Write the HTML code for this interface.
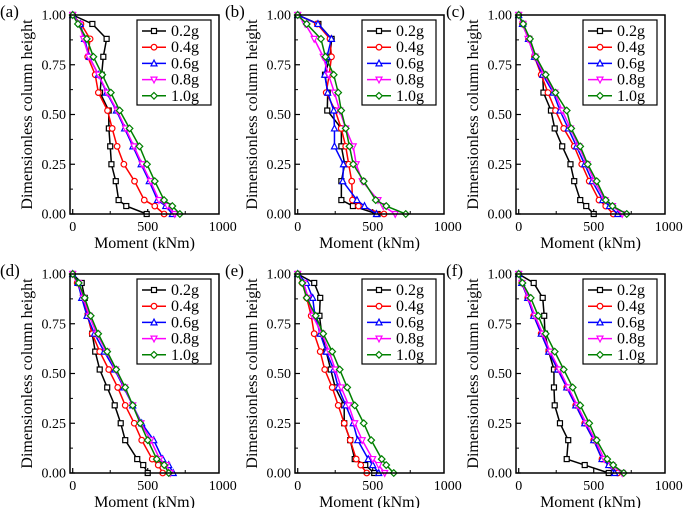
<!DOCTYPE html>
<html><head><meta charset="utf-8"><style>
body{margin:0;background:#fff;}
svg{display:block;}
</style></head><body>
<svg id="fig" width="685" height="508" viewBox="0 0 685 508" xmlns="http://www.w3.org/2000/svg"></svg>
<script>
const yLevels=[1,0.955,0.88,0.79,0.70,0.61,0.52,0.43,0.34,0.25,0.165,0.07,0.04,0];
const seriesNames=["0.2g","0.4g","0.6g","0.8g","1.0g"];
const colors=["#000000","#ff0000","#0000ff","#ff00ff","#008000"];
const xTicks=[0,500,1000];
const yTicks=[0,0.25,0.5,0.75,1];
const panelLabels=["(a)","(b)","(c)","(d)","(e)","(f)"];
const dataA=[
[0,131,226,204,193,182,240,241,250,258,287,306,357,493],
[0,55,116,100,150,171,232,263,296,341,412,477,547,609],
[0,50,79,110,171,226,291,346,401,456,510,565,620,664],
[0,45,72,108,172,230,296,352,408,463,518,575,632,680],
[0,35,94,138,197,254,313,379,445,495,547,609,664,714]];
const dataB=[
[0,138,226,215,182,200,197,291,291,313,291,291,368,532],
[0,130,215,225,210,190,250,290,320,340,360,365,405,575],
[0,135,225,195,180,200,240,245,245,305,300,395,445,525],
[0,50,110,170,205,245,280,320,370,390,430,535,570,650],
[0,60,155,185,240,270,290,320,345,370,440,520,590,720]];
const dataC=[
[0,30,70,110,160,165,215,240,290,345,370,410,450,500],
[0,25,65,105,150,195,245,300,370,420,470,535,580,630],
[0,25,65,105,160,230,275,330,385,440,490,560,605,660],
[0,28,62,108,170,240,290,345,400,455,505,575,625,690],
[0,30,75,115,180,245,320,350,410,460,520,580,625,720]];
const dataD=[
[0,60,80,100,130,150,180,230,280,320,350,430,470,500],
[0,30,70,100,130,180,240,300,350,410,460,530,570,600],
[0,35,60,95,145,210,280,340,400,460,540,600,640,670],
[0,38,70,110,160,225,285,345,400,455,520,580,625,650],
[0,40,80,120,170,230,290,350,400,450,500,560,610,640]];
const dataE=[
[0,110,150,145,160,190,220,250,310,310,350,380,450,510],
[0,30,60,90,110,150,180,230,270,310,350,390,420,460],
[0,60,100,115,150,190,240,270,320,370,400,470,500,540],
[0,40,70,100,160,210,250,290,340,380,430,500,540,580],
[0,30,60,120,170,230,280,330,380,440,490,560,590,640]];
const dataF=[
[0,100,160,170,175,200,235,235,240,275,330,320,440,600],
[0,20,60,100,150,200,260,320,380,440,500,555,605,660],
[0,20,60,100,150,200,260,320,380,440,500,555,600,640],
[0,22,65,108,160,210,270,330,390,450,510,570,620,690],
[0,25,80,130,180,240,300,360,410,470,520,590,630,700]];
const panelData=[dataA,dataB,dataC,dataD,dataE,dataF];

const NS="http://www.w3.org/2000/svg";
const svg=document.getElementById('fig');
const FF='"Liberation Serif", serif';
function mk(tag,attrs,parent){const e=document.createElementNS(NS,tag);for(const k in attrs)e.setAttribute(k,attrs[k]);if(tag==='text'){e.style.fontFamily=FF;}(parent||svg).appendChild(e);return e;}
const lefts=[70,295,516];const tops=[15,274];
const W=149,H=199,XMIN=-18,XMAX=975;
function marker(g,k,x,y,c){
  const s=2.5;let m;
  if(k===0)m=mk('rect',{x:x-s,y:y-s,width:2*s,height:2*s},g);
  else if(k===1)m=mk('circle',{cx:x,cy:y,r:s+0.3},g);
  else if(k===2)m=mk('polygon',{points:`${x},${y-s-0.8} ${x-s-0.5},${y+s} ${x+s+0.5},${y+s}`},g);
  else if(k===3)m=mk('polygon',{points:`${x},${y+s+0.8} ${x-s-0.5},${y-s} ${x+s+0.5},${y-s}`},g);
  else m=mk('polygon',{points:`${x},${y-s-0.8} ${x+s+0.8},${y} ${x},${y+s+0.8} ${x-s-0.8},${y}`},g);
  m.setAttribute('fill','#fff');m.setAttribute('stroke',c);m.setAttribute('stroke-width','1.2');
  return m;
}
panelData.forEach((pd,pi)=>{
  const L=lefts[pi%3],T=tops[Math.floor(pi/3)];
  const xs=v=>L+(v-XMIN)/(XMAX-XMIN)*W;
  const ys=v=>T+H-v*H;
  const g=mk('g',{});
  
  
  const lab=mk('text',{x:L-70,y:T+2,'font-size':17},g);lab.textContent=panelLabels[pi];
  
  
  yTicks.forEach(t=>{
    const y=ys(t);
    mk('line',{x1:L,x2:L+5,y1:y,y2:y,stroke:'#000','stroke-width':1.2},g);
    const tx=mk('text',{x:L-4,y:y+4.5,'font-size':14,'text-anchor':'end'},g);tx.textContent=t.toFixed(2);
    
    
  });
  [0.125,0.375,0.625,0.875].forEach(t=>{const y=ys(t);mk('line',{x1:L,x2:L+3,y1:y,y2:y,stroke:'#000','stroke-width':1},g);});
  xTicks.forEach(t=>{
    const x=xs(t);
    if(t<XMAX)mk('line',{x1:x,x2:x,y1:T+H,y2:T+H-5,stroke:'#000','stroke-width':1.2},g);
    const tx=mk('text',{x:x,y:T+H+17,'font-size':14,'text-anchor':'middle'},g);tx.textContent=t;
    
    
  });
  [250,750].forEach(t=>{const x=xs(t);mk('line',{x1:x,x2:x,y1:T+H,y2:T+H-3,stroke:'#000','stroke-width':1},g);});
  const xt=mk('text',{x:L+W/2,y:T+H+34,'font-size':16,'text-anchor':'middle'},g);xt.textContent='Moment (kNm)';
  
  
  const yt=mk('text',{x:0,y:0,'font-size':16,'text-anchor':'middle',transform:`translate(${L-38},${T+H/2}) rotate(-90)`},g);yt.textContent='Dimensionless column height';
  
  
  pd.forEach((vals,si)=>{
    const sg=mk('g',{},g);
    
    
    const pts=vals.map((v,i)=>xs(v)+','+ys(yLevels[i])).join(' ');
    mk('polyline',{points:pts,fill:'none',stroke:colors[si],'stroke-width':1.5},sg);
    vals.forEach((v,i)=>{const m=marker(sg,si,xs(v),ys(yLevels[i]),colors[si]);
      
      });
  });
  mk('rect',{x:L,y:T,width:W,height:H,fill:'none',stroke:'#000','stroke-width':1.5},g);
  const lg=mk('g',{},g);
  
  
  const LX=L+67,LY=T+5;
  mk('rect',{x:LX,y:LY,width:74,height:85,fill:'#fff',stroke:'#000','stroke-width':1.2},lg);
  seriesNames.forEach((n,si)=>{
    const y=LY+11+si*16.2;
    const e=mk('g',{},lg);
    
    
    mk('line',{x1:LX+5,x2:LX+29,y1:y,y2:y,stroke:colors[si],'stroke-width':1.5},e);
    marker(e,si,LX+17,y,colors[si]);
    const t=mk('text',{x:LX+34,y:y+5,'font-size':16},e);t.textContent=n;
  });
});
</script>
</body></html>
